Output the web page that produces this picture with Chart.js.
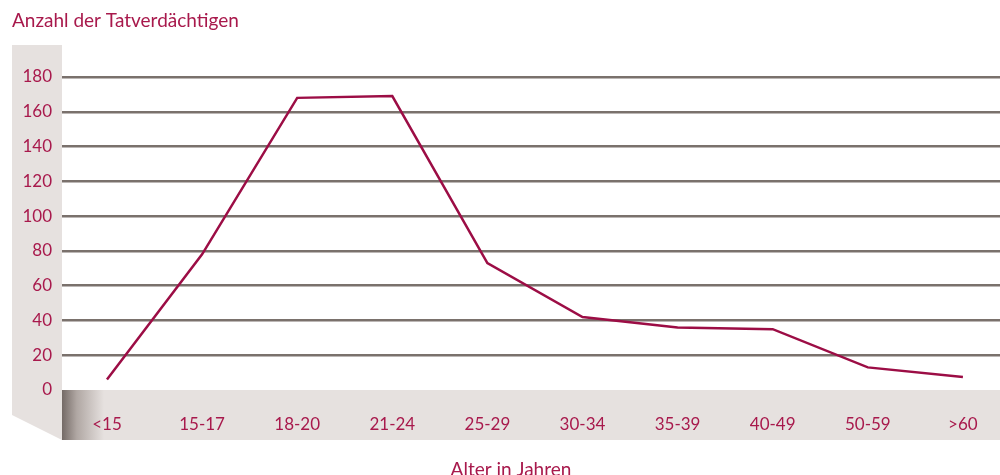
<!DOCTYPE html>
<html>
<head>
<meta charset="utf-8">
<script src="https://cdn.jsdelivr.net/npm/chart.js@4"></script>
<style>
  html, body { margin: 0; padding: 0; background: #fff; }
  #wrap { width: 1000px; height: 475px; }
</style>
</head>
<body>
<div id="wrap"><canvas id="c" width="1000" height="475"></canvas></div>
<script>
const ageGroups = ["<15", "15-17", "18-20", "21-24", "25-29", "30-34", "35-39", "40-49", "50-59", ">60"];
const suspects = [6, 78, 168, 169, 73, 42, 36, 35, 13, 7.5];
const yTicks = [0, 20, 40, 60, 80, 100, 120, 140, 160, 180];
const xTitle = "Alter in Jahren";

const textColor = "#a8194c";
const lineColor = "#9c0d45";
const panel = "#e6e1df";

// wall on the left + floor band under the plot
const stage = {
  id: "stage",
  beforeDraw(chart) {
    const { ctx, chartArea } = chart;
    const wallLeft = chart.scales.y.left;
    const depth = 50;
    ctx.save();
    ctx.fillStyle = panel;
    ctx.beginPath();
    ctx.moveTo(wallLeft, chartArea.top);
    ctx.lineTo(chartArea.left, chartArea.top);
    ctx.lineTo(chartArea.left, chartArea.bottom + depth);
    ctx.lineTo(wallLeft, chartArea.bottom + depth - 25);
    ctx.closePath();
    ctx.fill();

    ctx.fillRect(chartArea.left, chartArea.bottom, chart.width - chartArea.left, depth);
    const g = ctx.createLinearGradient(chartArea.left, 0, chartArea.left + 42, 0);
    g.addColorStop(0, "#746a66");
    g.addColorStop(0.35, "#b0a7a3");
    g.addColorStop(1, panel);
    ctx.fillStyle = g;
    ctx.fillRect(chartArea.left, chartArea.bottom, 42, depth);
    ctx.restore();
  },
  afterDraw(chart) {
    // axis title centred under the whole graphic (wall included)
    const { ctx } = chart;
    ctx.save();
    ctx.fillStyle = textColor;
    ctx.font = "19px Lato";
    ctx.textAlign = "center";
    ctx.textBaseline = "alphabetic";
    ctx.fillText(xTitle, (chart.scales.y.left + chart.width) / 2 + 5, chart.height + 1);
    ctx.restore();
  }
};

new Chart(document.getElementById("c").getContext("2d"), {
  type: "line",
  data: {
    datasets: [{
      data: suspects.map((v, i) => ({ x: i, y: v })),
      borderColor: lineColor,
      borderWidth: 2.5,
      tension: 0,
      pointRadius: 0,
      fill: false
    }]
  },
  options: {
    responsive: false,
    animation: false,
    layout: { padding: { left: 12, right: 0, top: 0, bottom: 0 } },
    plugins: {
      legend: { display: false },
      tooltip: { enabled: false },
      title: {
        display: true,
        text: "Anzahl der Tatverdächtigen",
        align: "start",
        color: textColor,
        font: { family: "Lato", size: 19, weight: "normal", lineHeight: 1.2 },
        padding: { top: 9, bottom: 13.2 }
      }
    },
    scales: {
      x: {
        type: "linear",
        min: -0.473,
        max: 9.39,
        afterBuildTicks: (s) => { s.ticks = ageGroups.map((_, i) => ({ value: i })); },
        afterFit: (s) => { s.height = 85; },
        grid: { display: false },
        border: { display: false },
        ticks: {
          color: textColor,
          font: { family: "Lato", size: 17 },
          padding: 16,
          maxRotation: 0,
          autoSkip: false,
          callback: (v) => ageGroups[v]
        },
        title: { display: false }
      },
      y: {
        min: 0,
        max: 198.4,
        afterBuildTicks: (s) => { s.ticks = yTicks.map(v => ({ value: v })); },
        afterFit: (s) => { s.width = 50; },
        border: { display: false },
        grid: {
          drawTicks: false,
          lineWidth: 2.5,
          color: (c) => (c.tick && c.tick.value === 0 ? "rgba(0,0,0,0)" : "#7a716c")
        },
        ticks: {
          color: textColor,
          font: { family: "Lato", size: 17 },
          padding: 10
        }
      }
    }
  },
  plugins: [stage]
});
</script>
</body>
</html>
